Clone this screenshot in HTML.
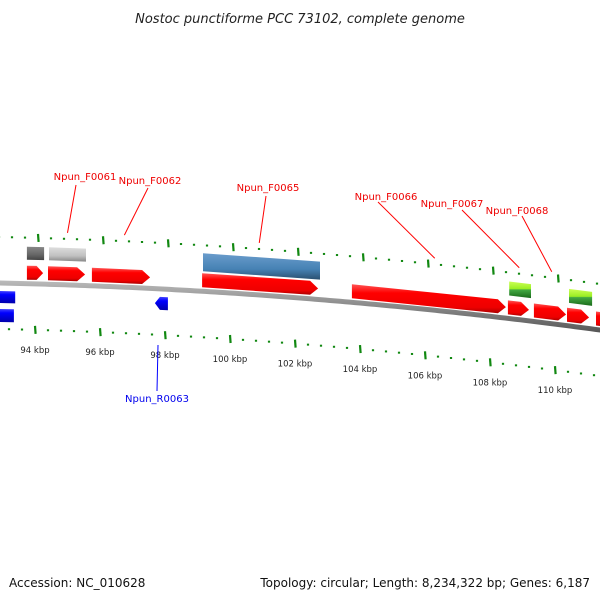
<!DOCTYPE html>
<html><head><meta charset="utf-8"><style>
body{margin:0;background:#fff;}
svg{display:block;font-family:"DejaVu Sans","Liberation Sans",sans-serif;}
</style></head><body>
<svg id="chart" width="600" height="600" viewBox="0 0 600 600">
<defs>
<linearGradient id="gRed" x1="0" y1="0" x2="0" y2="1"><stop offset="0" stop-color="#ff5555"/><stop offset="0.3" stop-color="#ff0000"/><stop offset="0.8" stop-color="#ee0000"/><stop offset="1" stop-color="#aa0000"/></linearGradient>
<linearGradient id="gBlue" x1="0" y1="0" x2="0" y2="1"><stop offset="0" stop-color="#4444ff"/><stop offset="0.3" stop-color="#0000ff"/><stop offset="1" stop-color="#0000aa"/></linearGradient>
<linearGradient id="gSteel" x1="0" y1="0" x2="0" y2="1"><stop offset="0" stop-color="#6a9ccc"/><stop offset="0.6" stop-color="#4682b4"/><stop offset="1" stop-color="#2a5070"/></linearGradient>
<linearGradient id="gDark" x1="0" y1="0" x2="0" y2="1"><stop offset="0" stop-color="#888"/><stop offset="0.6" stop-color="#666"/><stop offset="1" stop-color="#444"/></linearGradient>
<linearGradient id="gLight" x1="0" y1="0" x2="0" y2="1"><stop offset="0" stop-color="#ddd"/><stop offset="0.6" stop-color="#c0c0c0"/><stop offset="1" stop-color="#888"/></linearGradient>
<linearGradient id="gGreen" x1="0" y1="0" x2="0" y2="1"><stop offset="0" stop-color="#ccff55"/><stop offset="0.45" stop-color="#99ee22"/><stop offset="0.5" stop-color="#44aa44"/><stop offset="1" stop-color="#1a6a1a"/></linearGradient>
<linearGradient id="gBack" x1="0" y1="0" x2="0" y2="1"><stop offset="0" stop-color="#bbb"/><stop offset="0.5" stop-color="#888"/><stop offset="1" stop-color="#555"/></linearGradient>
</defs>
<text x="300" y="23" text-anchor="middle" font-size="13" font-style="italic" fill="#222">Nostoc punctiforme PCC 73102, complete genome</text>
<g id="ticks"></g>
<g id="backbone"></g>
<g id="features"></g>
<g id="labels"></g>
<text x="9" y="587" font-size="12" fill="#111">Accession: NC_010628</text>
<text x="590" y="587" text-anchor="end" font-size="12" fill="#111">Topology: circular; Length: 8,234,322 bp; Genes: 6,187</text>
</svg>
<script>
// data
const tickStart = 92.8;
const tickEnd = 111.8;
const minorStep = 0.4;
const majorTicks = [94, 96, 98, 100, 102, 104, 106, 108, 110];
const majorTickLabels = ["94 kbp","96 kbp","98 kbp","100 kbp","102 kbp","104 kbp","106 kbp","108 kbp","110 kbp"];
const featNames = ["f-grey1","f-grey2","f-red1","f-red2","f-red3","f-steel","f-red4","f-red5","f-red6","f-red7","f-green1","f-red8","f-green2","f-red9","f-blue1","f-blue2","f-blue3"];
const featStart = [93.75,94.43,93.75,94.40,95.75,99.17,99.14,103.75,108.55,109.35,108.59,110.37,110.43,111.26,92.77,92.77,97.69];
const featEnd   = [94.28,95.57,94.25,95.54,97.54,102.77,102.71,108.49,109.20,110.34,109.26,111.05,111.14,111.70,93.39,93.35,98.09];
const featType  = ["dark","light","red","red","red","steel","red","red","red","red","green","red","green","red","blue","blue","blueL"];
const labelNames = ["Npun_F0061","Npun_F0062","Npun_F0065","Npun_F0066","Npun_F0067","Npun_F0068"];
const labelKbp = [95.0, 96.75, 100.9, 106.3, 108.9, 109.9];

// scales
const X = k => 35 + (k - 94) * 32.5;
const Y = x => 283 + 0.0217 * x + 0.0000944 * x * x;
const NS = "http://www.w3.org/2000/svg";
function mk(tag, attrs, parent){const e=document.createElementNS(NS,tag);for(const a in attrs)e.setAttribute(a,attrs[a]);parent.appendChild(e);return e;}

// backbone
const bb = document.getElementById('backbone');
let d = "";
for (let x=-5; x<=605; x+=5) d += (x===-5?"M":"L") + x + " " + (Y(x)-2.5).toFixed(2);
for (let x=605; x>=-5; x-=5) d += "L" + x + " " + (Y(x)+2.5).toFixed(2);
const bpath = mk('path',{d:d+"Z",fill:"url(#gBack)"},bb);



// ticks
const tg = document.getElementById('ticks');
const nSteps = Math.round((tickEnd - tickStart)/minorStep);
for (let i=0;i<=nSteps;i++){
  const k = tickStart + i*minorStep;
  const isMajor = majorTicks.some(m=>Math.abs(m-k)<0.05);
  const x = X(k);
  [[-46,3],[46,0]].forEach(([off,dx])=>{
    const xx = x + dx;
    const yc = Y(xx)+off;
    const h = isMajor?4:1;
    const t = mk('line',{x1:xx,y1:yc-h,x2:xx+(isMajor?0.6:0),y2:yc+h,stroke:"#118811","stroke-width":2.2},tg);
    
    
  });
}
majorTicks.forEach((m,i)=>{
  const x = X(m);
  const t = mk('text',{x:x,y:Y(x)+69,"text-anchor":"middle","font-size":"8.5",fill:"#222"},tg);
  t.textContent = majorTickLabels[i];
  
  
});

// features
const fg = document.getElementById('features');
const offsets = {red:[-18,-4],dark:[-37,-24],light:[-37,-24],steel:[-38,-20],green:[-37,-23],blue:[8,20],blueL:[8,21]};
const fills = {red:"url(#gRed)",dark:"url(#gDark)",light:"url(#gLight)",steel:"url(#gSteel)",green:"url(#gGreen)",blue:"url(#gBlue)",blueL:"url(#gBlue)"};
featNames.forEach((n,i)=>{
  let ty = featType[i];
  let [o1,o2] = offsets[ty];
  if (n==="f-blue2"){o1=26;o2=39;}
  const x1 = X(featStart[i]), x2 = X(featEnd[i]);
  let pts;
  if (ty==="red"){
    const ah = Math.min(8,(x2-x1)*0.4);
    const xm = x2-ah, mid=(o1+o2)/2;
    pts = [[x1,Y(x1)+o1],[xm,Y(xm)+o1],[x2,Y(x2)+mid],[xm,Y(xm)+o2],[x1,Y(x1)+o2]];
  } else if (ty==="blueL"){
    const ah=5, xm=x1+ah, mid=(o1+o2)/2;
    pts = [[x1,Y(x1)+mid],[xm,Y(xm)+o1],[x2,Y(x2)+o1],[x2,Y(x2)+o2],[xm,Y(xm)+o2]];
  } else {
    pts = [[x1,Y(x1)+o1],[x2,Y(x2)+o1],[x2,Y(x2)+o2],[x1,Y(x1)+o2]];
  }
  const p = mk('polygon',{points:pts.map(q=>q[0].toFixed(1)+","+q[1].toFixed(1)).join(" "),fill:fills[ty]},fg);
  
  
});

// labels
const lg = document.getElementById('labels');
const labelPos = [[85,176],[150,180],[268,187],[386,196],[452,203],[517,210]];
const leaderStart = [[76,185],[148,188],[266,196],[378,202],[462,210],[522,216]];
labelNames.forEach((n,i)=>{
  const [lx,ly] = labelPos[i];
  const tx = X(labelKbp[i]);
  const ty = Y(tx)-52;
  const ln = mk('line',{x1:leaderStart[i][0],y1:leaderStart[i][1],x2:tx,y2:ty,stroke:"#ff0000","stroke-width":1},lg);
  
  
  const t = mk('text',{x:lx,y:ly+4,"text-anchor":"middle","font-size":"10",fill:"#ee0000"},lg);
  t.textContent = n;
  
  
});
const rl = mk('line',{x1:158,y1:345,x2:157,y2:391,stroke:"#0000ff","stroke-width":1},lg);


const rt = mk('text',{x:157,y:402,"text-anchor":"middle","font-size":"10",fill:"#0000ee"},lg);
rt.textContent = "Npun_R0063";


</script>
</body></html>
